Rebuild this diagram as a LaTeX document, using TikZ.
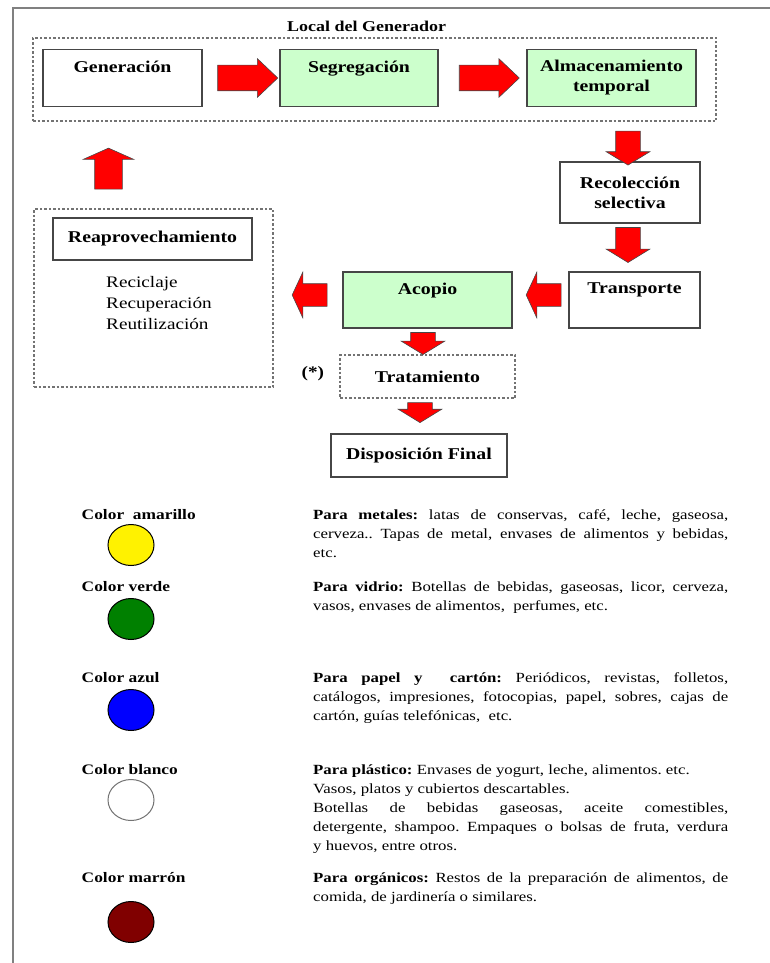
\documentclass[tikz,border=0pt]{standalone}
\usepackage{fontspec}
\setmainfont{Liberation Serif}[FakeStretch=1.2]
\usetikzlibrary{shapes.arrows,shapes.geometric,calc,positioning}
\definecolor{boxgreen}{RGB}{204,255,204}
\definecolor{framegray}{RGB}{128,128,128}
\definecolor{edgegray}{RGB}{70,70,70}
\definecolor{dotgray}{RGB}{115,115,115}
\definecolor{binbrown}{RGB}{128,0,0}
\definecolor{bingreen}{RGB}{0,128,0}
\frenchspacing
\newcommand{\jline}[1]{\makebox[415pt][s]{#1}}
\tikzset{
  procbox/.style={draw=edgegray, line width=1.4pt, fill=white, align=center, inner sep=2pt,
    font=\fontsize{16.5}{20}\selectfont\bfseries},
  greenbox/.style={procbox, fill=boxgreen},
  dotbox/.style={draw=dotgray, line width=1.6pt, dash pattern=on 2.5pt off 2pt, align=center,
    inner sep=2pt, font=\fontsize{16.5}{20}\selectfont\bfseries},
  blockarrow/.style={single arrow, draw=edgegray, fill=red, line width=0.6pt, inner sep=0pt,
    minimum width=0pt},
  rightarr/.style={blockarrow, inner ysep=12.5pt, single arrow head extend=6.5pt,
    single arrow tip angle=87, minimum height=60pt},
  downarr/.style={blockarrow, rotate=-90, inner ysep=12pt, single arrow head extend=9.5pt,
    single arrow tip angle=117},
  leftarr/.style={blockarrow, rotate=180, inner ysep=11pt, single arrow head extend=11.5pt,
    single arrow tip angle=130, minimum height=35pt},
  uparr/.style={blockarrow, rotate=90, inner ysep=13.5pt, single arrow head extend=11.5pt,
    single arrow tip angle=132, minimum height=41pt},
  bin/.style={ellipse, line width=1pt, minimum width=46pt, minimum height=41pt},
  colorlab/.style={font=\fontsize{14.5}{18}\selectfont\bfseries, inner sep=0pt, anchor=base west},
  legtext/.style={font=\fontsize{14}{18.8}\selectfont, align=left, inner sep=0pt, anchor=north west}
}
\begin{document}
\begin{tikzpicture}[x=1pt,y=-1pt]
\useasboundingbox (0,0) rectangle (770,963);
\draw[framegray, line width=2pt] (13,963) -- (13,8) -- (770,8);

% local del generador
\node[dotbox, minimum width=683pt, minimum height=83pt,
  label={[font=\fontsize{15}{18}\selectfont\bfseries, inner sep=5pt, xshift=-8pt]above:Local del Generador}]
  (local) at (374.5,79.5) {};
\node[procbox, minimum width=159pt, minimum height=57pt] (gen) at (122.5,78) {Generación\\[-3pt]\strut};
\node[greenbox, minimum width=158pt, minimum height=57pt] (seg) at (359,78) {Segregación\\[-3pt]\strut};
\node[greenbox, minimum width=169pt, minimum height=57pt] (alm) at (611.5,78) {Almacenamiento\\temporal};
\node[rightarr] (a1) at ($(gen.east)!.5!(seg.west)$) {};
\node[rightarr] (a2) at ($(seg.east)!.5!(alm.west)$) {};

% recoleccion y transporte
\node[procbox, minimum width=140pt, minimum height=61pt] (rec) at (630,192.5) {Recolección\\selectiva};
\node[procbox, minimum width=131pt, minimum height=56pt] (trans) at (634.5,300) {Transporte\\[-3pt]\strut};
\node[greenbox, minimum width=169pt, minimum height=56pt] (aco) at (427.5,300) {Acopio\\[-3pt]\strut};
\node[downarr, minimum height=34pt] (a3) at ($(rec.north)+(-2,-17)$) {};
\node[downarr, minimum height=35pt] (a4) at ($(rec.south)+(-2,17.5)$) {};
\node[leftarr] (a5) at ($(trans.west)+(-22,-5)$) {};
\node[leftarr] (a6) at ($(aco.west)+(-30,-5)$) {};

% reaprovechamiento
\node[dotbox, minimum width=239pt, minimum height=178pt] (reapzone) at (153.5,298) {};
\node[procbox, minimum width=199pt, minimum height=42pt] (reap) at (152.5,239) {Reaprovechamiento};
\node[font=\fontsize{16}{21}\selectfont, align=left, inner sep=0pt, anchor=north west]
  (reaplist) at (106,272.5) {\strut Reciclaje\\Recuperación\\Reutilización};
\node[uparr] (a9) at ($(reapzone.north)+(-45,-36.5)$) {};

% tratamiento y disposicion
\node[dotbox, minimum width=175pt, minimum height=43pt] (trat) at (427.5,376.5) {Tratamiento};
\node[font=\fontsize{16}{20}\selectfont\bfseries, inner sep=0pt, left=15pt of trat, yshift=3pt] (star) {(*)};
\node[procbox, minimum width=176pt, minimum height=43pt] (disp) at (419,455.5) {Disposición Final};
\node[downarr, minimum height=22pt] (a7) at ($(aco.south)+(-4.5,11)$) {};
\node[downarr, minimum height=20pt] (a8) at ($(trat.south -| disp.north)+(1,10)$) {};

% colores
\foreach \ly/\ey/\fc/\dc/\txt [count=\i] in
  {515/545/yellow/black/{Color\ \ amarillo}, 587/619/bingreen/black/{Color verde},
   678/710/blue/black/{Color azul}, 770/800/white/dotgray/{Color blanco},
   878/922/binbrown/black/{Color marrón}}{
  \node[colorlab] (lab\i) at (81.5,\ly+4.8) {\txt};
  \node[bin, fill=\fc, draw=\dc] (bin\i) at (131,\ey) {};
}
\node[legtext] (tmet) at (313,506.5) {\strut\jline{\textbf{Para metales:} latas de conservas, café, leche, gaseosa,}\\
  \jline{cerveza.. Tapas de metal, envases de alimentos y bebidas,}\\
  etc.};
\node[legtext] (tvid) at (313,578.5) {\strut\jline{\textbf{Para vidrio:} Botellas de bebidas, gaseosas, licor, cerveza,}\\
  vasos, envases de alimentos,\ \ perfumes, etc.};
\node[legtext] (tpap) at (313,669.5) {\strut\jline{\textbf{Para papel y\ \ cartón:} Periódicos, revistas, folletos,}\\
  \jline{catálogos, impresiones, fotocopias, papel, sobres, cajas de}\\
  cartón, guías telefónicas,\ \ etc.};
\node[legtext] (tpla) at (313,761.5) {\strut\textbf{Para plástico:} Envases de yogurt, leche, alimentos. etc.\\
  Vasos, platos y cubiertos descartables.\\
  \jline{Botellas de bebidas gaseosas, aceite comestibles,}\\
  \jline{detergente, shampoo. Empaques o bolsas de fruta, verdura}\\
  y huevos, entre otros.};
\node[legtext] (torg) at (313,869.5) {\strut\jline{\textbf{Para orgánicos:} Restos de la preparación de alimentos, de}\\
  comida, de jardinería o similares.};
\end{tikzpicture}
\end{document}
